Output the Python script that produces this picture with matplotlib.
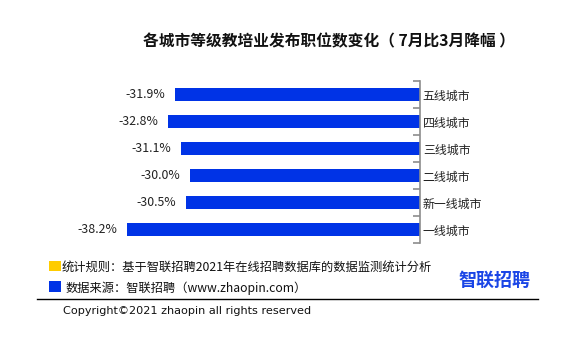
import matplotlib
matplotlib.use("Agg")
import matplotlib.pyplot as plt
from matplotlib.patches import Rectangle
from matplotlib.lines import Line2D
import numpy as np

plt.rcParams['font.family'] = ['Noto Sans CJK SC', 'DejaVu Sans']

# data, listed from top to bottom
cities = ["五线城市", "四线城市", "三线城市", "二线城市", "新一线城市", "一线城市"]
changes = [-31.9, -32.8, -31.1, -30.0, -30.5, -38.2]

title = "各城市等级教培业发布职位数变化（ 7月比3月降幅 ）"
note_rule = "统计规则：基于智联招聘2021年在线招聘数据库的数据监测统计分析"
note_source = "数据来源：智联招聘（www.zhaopin.com）"
copyright_text = "Copyright©2021 zhaopin all rights reserved"
logo_text = "智联招聘"

BLUE = "#0033e6"
YELLOW = "#ffcc00"

W, H = 581, 345
fig = plt.figure(figsize=(W / 100, H / 100), dpi=100)

def fx(px):
    return px / W

def fy(py):
    return 1 - py / H

# axes: zero line at x=420px, 7.67 px per percentage point
xmin = -45
scale = 7.67
left_px = 420 + xmin * scale
ax = fig.add_axes([fx(left_px), fy(243), fx(420 - left_px), fy(81) - fy(243)])

n = len(cities)
y = np.arange(n)[::-1]
ax.barh(y, changes, height=0.45, color=BLUE)
ax.set_xlim(xmin, 0)
ax.set_ylim(-0.5, n - 0.5)

for yi, v in zip(y, changes):
    ax.text(v - 1.3, yi, f"{v:.1f}%", ha="right", va="center", fontsize=8.9, color="#222222")

for s in ["top", "bottom", "left"]:
    ax.spines[s].set_visible(False)
ax.spines["right"].set_color("#8c8c8c")
ax.spines["right"].set_linewidth(1.2)
ax.set_xticks([])
ax.yaxis.tick_right()
ax.set_yticks(y)
ax.set_yticklabels(cities, fontsize=8.6, color="#222222")
ax.tick_params(axis="y", which="major", length=0, pad=2)
ax.set_yticks(np.arange(-0.5, n, 1.0), minor=True)
ax.tick_params(axis="y", which="minor", length=5, direction="in", color="#8c8c8c", width=1.2,
               left=False, right=True)

fig.text(fx(329), fy(41), title, ha="center", va="center", fontsize=11.3, fontweight="bold",
         color="#111111")

# footer notes
fig.add_artist(Rectangle((fx(49), fy(271)), fx(12), fy(261) - fy(271), transform=fig.transFigure,
                         color=YELLOW, lw=0))
fig.text(fx(62), fy(267), note_rule, ha="left", va="center", fontsize=8.8, color="#111111")
fig.add_artist(Rectangle((fx(49), fy(292)), fx(12), fy(281) - fy(292), transform=fig.transFigure,
                         color=BLUE, lw=0))
fig.text(fx(66), fy(288), note_source, ha="left", va="center", fontsize=8.8, color="#111111")
fig.text(fx(494), fy(280), logo_text, ha="center", va="center", fontsize=13, fontweight="bold",
         color="#1a45e6")

fig.add_artist(Line2D([fx(37), fx(538)], [fy(299), fy(299)], transform=fig.transFigure,
                      color="black", lw=1))
fig.text(fx(63), fy(311), copyright_text, ha="left", va="center", fontsize=8.1, color="#111111",
         family="DejaVu Sans")

fig.savefig("out.png", dpi=100, facecolor="white")
